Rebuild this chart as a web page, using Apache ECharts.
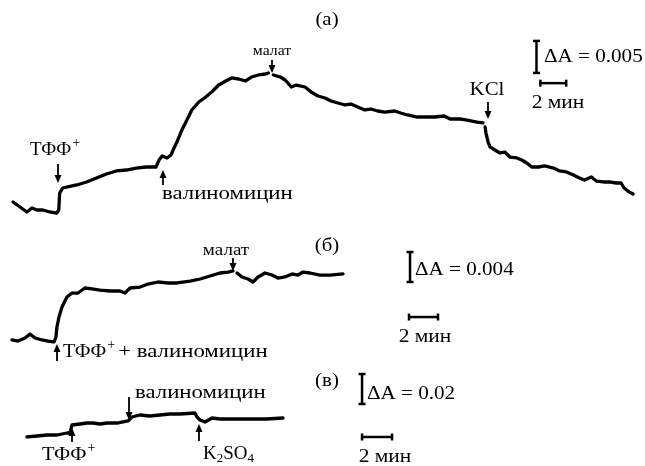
<!DOCTYPE html>
<html><head><meta charset="utf-8">
<script src="https://cdn.jsdelivr.net/npm/echarts@6/dist/echarts.min.js"></script>
<style>html,body{margin:0;padding:0;background:#fff}#c{width:645px;height:466px}</style>
</head><body><div id="c"></div>
<script>
// ---- Panel (а): time, min ; ΔA ×10^-3 ----
const timeA = [0.08,0.62,1.15,1.54,1.92,2.38,2.92,3.46,3.62,3.69,3.92,4.31,5.0,5.77,6.54,7.31,8.08,8.85,9.62,10.38,11.15,11.38,11.62,12.0,12.31,12.54,12.77,13.15,13.54,13.92,14.46,15.0,15.46,16.0,16.54,17.0,17.54,18.08,18.54,19.08,19.62,19.85,20.0,20.23,20.77,21.15,21.62,22.0,22.69,23.15,23.69,24.23,24.69,25.23,25.77,26.23,26.77,27.31,27.77,28.31,28.85,29.62,30.08,30.62,31.38,32.15,32.69,33.46,33.92,34.69,35.23,36.0,36.46,36.55,36.62,36.69,36.85,37.0,37.38,37.77,38.15,38.54,39.08,39.46,39.85,40.23,40.77,41.23,41.92,42.38,42.92,43.46,43.92,44.31,44.85,45.23,45.77,46.23,46.77,47.15,47.38,47.77,48.08];
const absA = [2.03,1.25,0.47,1.09,0.78,0.78,0.47,0.31,0.78,3.44,4.22,4.38,4.69,5.16,5.78,6.41,6.88,7.03,7.34,7.5,7.5,8.59,9.22,8.91,9.38,10.47,11.41,13.28,14.84,16.41,17.66,18.44,19.22,20.31,20.94,21.41,21.25,20.94,21.56,21.88,22.03,22.19,null,21.88,21.56,21.09,20.0,20.31,20.0,19.22,18.59,18.28,17.81,17.5,17.19,17.34,16.88,16.41,16.56,16.25,16.09,16.25,15.94,15.63,15.31,15.31,15.31,15.47,15.0,15.0,14.84,14.53,14.38,null,13.75,12.81,11.41,10.63,10.16,9.69,9.84,9.06,8.91,8.59,8.13,7.5,7.5,7.66,7.34,6.88,6.72,6.25,5.78,5.47,5.94,5.31,5.16,5.16,5.0,5.0,4.22,3.59,3.28];
// ---- Panel (б) ----
const timeB = [0,0.41,0.9,1.24,1.59,2.07,2.48,2.9,3.03,3.1,3.24,3.45,3.79,4.14,4.55,5.03,5.52,6.07,6.76,7.45,7.79,8.14,8.83,9.38,10.07,10.69,11.38,12.28,12.97,13.66,14.34,14.9,15.24,15.38,15.52,15.86,16.28,16.62,16.97,17.45,17.93,18.34,18.83,19.31,19.72,20.07,20.55,21.24,21.93,22.83];
const absB = [0.27,0.13,0.53,1.07,0.53,0.27,0.13,0,0.67,2.0,3.33,4.67,6.0,6.53,6.53,7.2,7.07,6.93,6.8,6.8,6.53,7.2,7.33,7.73,8.0,7.87,7.87,8.13,8.4,8.8,9.2,9.33,9.47,null,9.2,8.67,8.4,8.0,8.67,9.2,8.93,8.53,8.67,9.07,8.93,9.33,9.2,8.93,8.93,9.07];
// ---- Panel (в) ----
const timeC = [0.13,0.8,1.47,2.13,2.8,3.0,3.13,3.67,4.13,4.53,5.0,5.47,6.13,6.87,7.13,7.67,8.33,9.0,9.67,10.33,11.33,11.47,11.67,12.0,12.47,13.0,13.87,15.0,16.13,17.2];
const absC = [0,0.67,1.33,1.33,2.67,2.67,8.0,8.67,9.33,9.33,8.67,9.33,9.33,10.67,13.33,14.67,14.0,14.67,15.33,15.33,16.0,13.33,11.33,10.0,12.67,12.0,12.0,12.0,12.0,12.67];
// scale bars
const scaleMin = [2, 2, 2];
const scaleAbs = [5, 4, 20];   // ΔA ×10^-3
const scaleText = ['ΔA = 0.005', 'ΔA = 0.004', 'ΔA = 0.02'];
const panelTitles = ['(а)', '(б)', '(в)'];

const pair = (t, a) => t.map((v, i) => [v, a[i] === null ? '-' : a[i]]);
const FONT = '"Liberation Serif","Times New Roman",serif';

const grids = [
  {left: 12, top: 29.4, width: 637, height: 185.6},
  {left: 12, top: 244.5, width: 435, height: 97.5},
  {left: 25, top: 369.5, width: 450, height: 67.5}
];
const xr = [[0,49],[0,30],[0,30]];
const yr = [[0,29],[0,13],[0,45]];
const barV = [[40.6,22.2],[27.45,8.0],[22.47,22]];
const barH = [[40.9,20.6],[27.38,3.33],[22.47,0]];

const series = [];
[[timeA,absA],[timeB,absB],[timeC,absC]].forEach((d, i) => {
  series.push({type:'line', xAxisIndex:i, yAxisIndex:i, data: pair(d[0], d[1]), symbol:'none',
    lineStyle:{color:'#000', width:3.3, join:'round', cap:'round'}, silent:true, animation:false});
  series.push({type:'line', xAxisIndex:i, yAxisIndex:i, clip:false,
    data:[[barV[i][0], barV[i][1]],[barV[i][0], barV[i][1]+scaleAbs[i]]],
    symbol:'rect', symbolSize:[7,2.5], showSymbol:true, itemStyle:{color:'#000'},
    lineStyle:{color:'#000', width:2.5}, silent:true, animation:false});
  series.push({type:'line', xAxisIndex:i, yAxisIndex:i, clip:false,
    data:[[barH[i][0], barH[i][1]],[barH[i][0]+scaleMin[i], barH[i][1]]],
    symbol:'rect', symbolSize:[2.5,7], showSymbol:true, itemStyle:{color:'#000'},
    lineStyle:{color:'#000', width:2.5}, silent:true, animation:false});
});

const cv = document.createElement('canvas').getContext('2d');
function tw(s, size){ cv.font = size + 'px ' + FONT; return cv.measureText(s).width; }
const G = [];
function txt(x, y, s, size, align, sx){
  G.push({type:'text', x:x, y:y, scaleX: sx || 1, silent:true, style:{text:s, x:0, y:0, font: size+'px '+FONT, fill:'#000',
    align: align||'left', verticalAlign:'middle', textAlign: align||'left', textVerticalAlign:'middle'}});
}
function arrow(x, y0, y1){
  const dir = y1 > y0 ? 1 : -1;
  G.push({type:'line', silent:true, shape:{x1:x, y1:y0, x2:x, y2:y1 - dir*6}, style:{stroke:'#000', lineWidth:1.8}});
  G.push({type:'polygon', silent:true, shape:{points:[[x-3.5, y1-dir*8],[x+3.5, y1-dir*8],[x, y1]]}, style:{fill:'#000'}});
}
function tpp(x, y, size, sx, rest, rsx){
  txt(x, y, 'ТФФ', size, 'left', sx);
  const w = tw('ТФФ', size) * sx;
  txt(x + w + 1, y - 7, '+', 14);
  if (rest) txt(x + w + 12, y, rest, size, 'left', rsx);
}
const S = 19;
txt(327, 20, panelTitles[0], S, 'center', 1.1);
txt(327, 246, panelTitles[1], S, 'center', 1.1);
txt(327, 381, panelTitles[2], S, 'center', 1.1);
txt(544, 57, scaleText[0], S, 'left', 1.11); txt(558, 103, '2 мин', S, 'center', 1.13);
txt(415, 270, scaleText[1], S, 'left', 1.11); txt(425, 337, '2 мин', S, 'center', 1.13);
txt(367, 394, scaleText[2], S, 'left', 1.11); txt(385, 457, '2 мин', S, 'center', 1.13);
// (а)
tpp(30, 150, S, 1.0);
arrow(58, 164, 183);
txt(162, 194, 'валиномицин', S, 'left', 1.2);
arrow(163, 185, 170);
txt(272, 51, 'малат', 15, 'center', 1.05);
arrow(272, 60, 73);
txt(487, 90, 'KCl', S, 'center', 1.1);
arrow(488, 102, 119);
// (б)
txt(226, 251, 'малат', 17, 'center', 1.12);
arrow(233, 258, 271);
tpp(63, 352, S, 1.05, '+ валиномицин', 1.2);
arrow(57, 361, 344);
// (в)
txt(135, 393, 'валиномицин', S, 'left', 1.2);
arrow(129, 397, 420);
tpp(42, 455, S, 1.08);
arrow(72, 442, 428);
(function(){
  let x = 203, y = 454;
  txt(x, y, 'K', S); x += tw('K', S);
  txt(x, y + 5, '2', 13); x += tw('2', 13);
  txt(x, y, 'SO', S); x += tw('SO', S);
  txt(x, y + 5, '4', 13);
})();
arrow(199, 441, 424);

const chart = echarts.init(document.getElementById('c'), null, {renderer:'canvas'});
chart.setOption({
  backgroundColor:'#fff', animation:false,
  grid: grids,
  xAxis: xr.map((r, i) => ({type:'value', gridIndex:i, min:r[0], max:r[1], show:false})),
  yAxis: yr.map((r, i) => ({type:'value', gridIndex:i, min:r[0], max:r[1], show:false})),
  series: series,
  graphic: G
});
</script></body></html>
